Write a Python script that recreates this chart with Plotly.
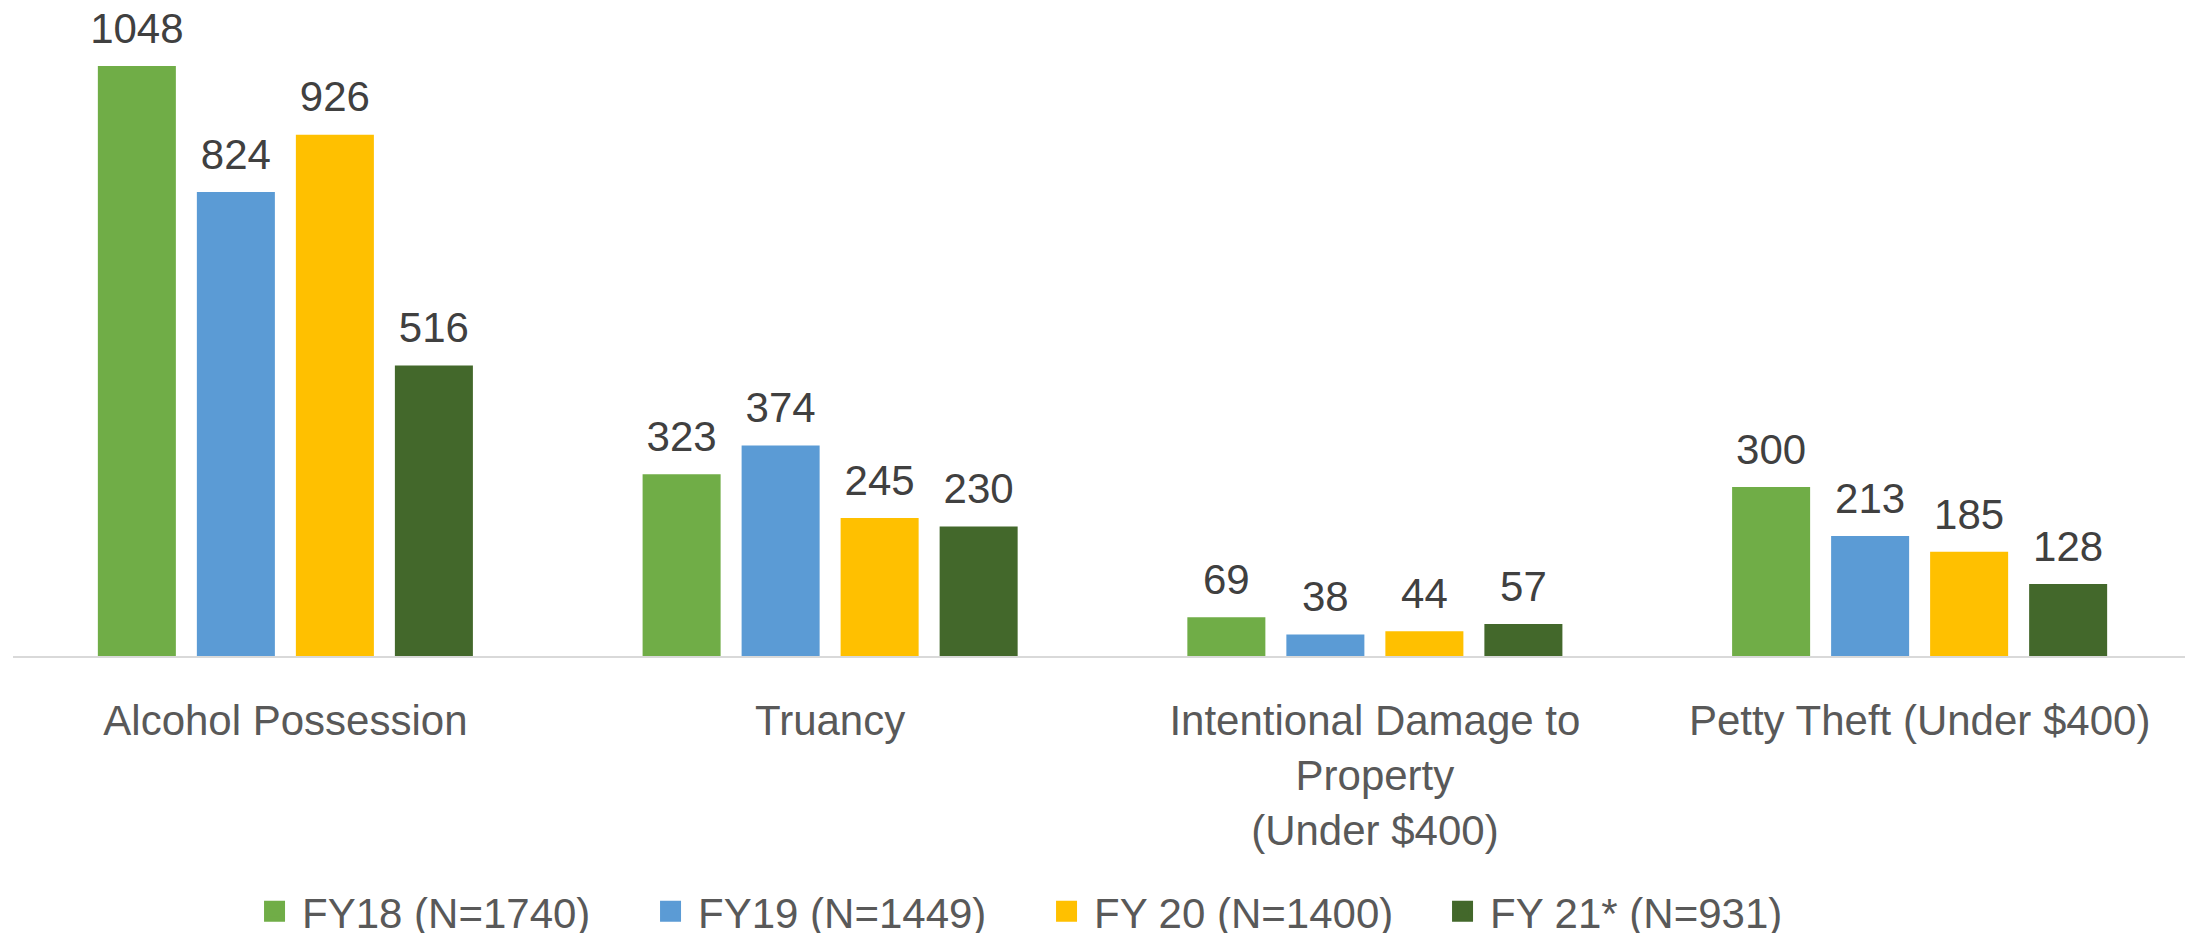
import plotly.graph_objects as go

categories = ["Alcohol Possession", "Truancy", "Intentional Damage to<br>Property<br>(Under $400)", "Petty Theft (Under $400)"]
series_names = ["FY18 (N=1740)", "FY19 (N=1449)", "FY 20 (N=1400)", "FY 21* (N=931)"]
fy18 = [1048, 323, 69, 300]
fy19 = [824, 374, 38, 213]
fy20 = [926, 245, 44, 185]
fy21 = [516, 230, 57, 128]
colors = ["#70AD47", "#5B9BD5", "#FFC000", "#43682B"]

FONT = "Liberation Sans, Arial, sans-serif"
LABEL_PAD = 20  # gap (axis units) between bar top and its value label

fig = go.Figure()
for i, (name, vals, col) in enumerate(zip(series_names, [fy18, fy19, fy20, fy21], colors)):
    grp = str(i)
    fig.add_trace(go.Bar(
        x=categories, y=vals, name=name, marker_color=col,
        marker_line_width=0, offsetgroup=grp, showlegend=False,
        hoverinfo="skip",
    ))
    # transparent spacer carrying the value label
    fig.add_trace(go.Bar(
        x=categories, y=[LABEL_PAD] * len(vals), base=vals, offsetgroup=grp,
        marker_color="rgba(0,0,0,0)", marker_line_width=0, showlegend=False,
        text=vals, textposition="outside", cliponaxis=False, constraintext="none",
        textfont=dict(size=42, color="#404040", family=FONT),
        hoverinfo="skip",
    ))
    # legend entry
    fig.add_trace(go.Scatter(
        x=[None], y=[None], mode="markers", name=name,
        marker=dict(symbol="square", size=16, color=col, line=dict(color=col, width=5)),
        showlegend=True, hoverinfo="skip",
    ))

fig.update_layout(
    width=2193, height=925,
    margin=dict(l=5, r=9, t=0, b=277),
    paper_bgcolor="white", plot_bgcolor="white",
    barmode="group", bargap=0.273, bargroupgap=0.212,
    font=dict(family=FONT, size=42, color="#595959"),
    showlegend=True,
    legend=dict(
        orientation="h", xref="container", yref="container",
        x=0.109, xanchor="left", y=0.0232, yanchor="middle",
        font=dict(size=42, color="#595959", family=FONT),
        itemsizing="trace", itemwidth=45, entrywidth=336,
        bgcolor="rgba(0,0,0,0)",
    ),
    xaxis=dict(
        showline=True, linecolor="#D9D9D9", linewidth=2,
        ticks="", showgrid=False, tickfont=dict(size=42, color="#595959"),
        ticklabelstandoff=27, fixedrange=True,
    ),
    yaxis=dict(range=[0, 1151], visible=False, showgrid=False, fixedrange=True),
)

fig.write_html("out.html")
